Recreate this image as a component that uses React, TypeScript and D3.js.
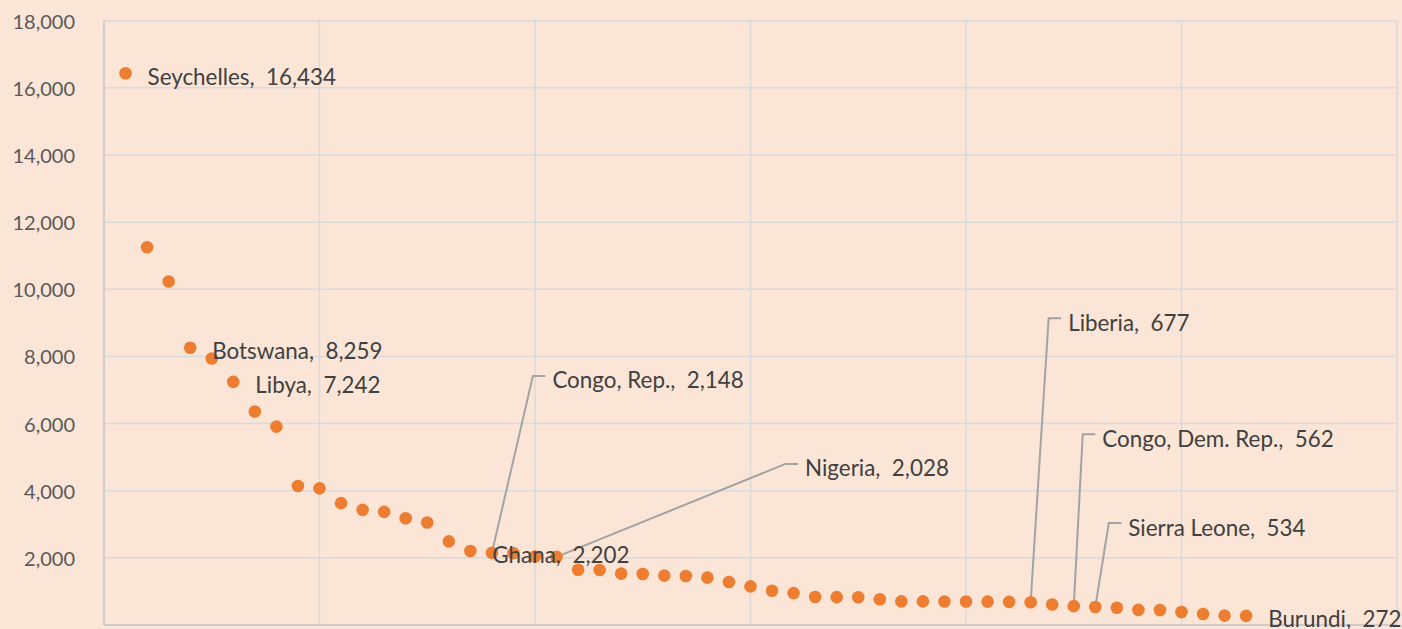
import React from 'react';
import * as d3 from 'd3';

// GDP per capita (US$), African countries ranked high to low
const values = [
  16434, 11250, 10230, 8259, 7940, 7242, 6360, 5910, 4140, 4070,
  3630, 3430, 3370, 3180, 3055, 2490, 2202, 2148, 2140, 2040,
  2028, 1645, 1640, 1530, 1520, 1470, 1460, 1410, 1280, 1150,
  1020, 950, 835, 830, 825, 765, 705, 703, 700, 698,
  695, 688, 677, 610, 562, 534, 515, 450, 445, 388,
  328, 280, 272,
];

// labels sitting to the right of their point
const sideLabels = [
  { rank: 1, name: 'Seychelles' },
  { rank: 4, name: 'Botswana' },
  { rank: 6, name: 'Libya' },
  { rank: 17, name: 'Ghana' },
  { rank: 53, name: 'Burundi' },
];

// labels pulled away with a leader line
const calloutLabels = [
  { rank: 18, name: 'Congo, Rep.' },
  { rank: 21, name: 'Nigeria' },
  { rank: 43, name: 'Liberia' },
  { rank: 45, name: 'Congo, Dem. Rep.' },
  { rank: 46, name: 'Sierra Leone' },
];

const yTicks = [0, 2000, 4000, 6000, 8000, 10000, 12000, 14000, 16000, 18000];
const xTicks = [0, 10, 20, 30, 40, 50, 60];

// where each leader line bends, relative to its point (px)
const calloutOffsets = {
  'Congo, Rep.': [41, -177],
  'Nigeria': [229, -93],
  'Liberia': [18, -284],
  'Congo, Dem. Rep.': [9, -172],
  'Sierra Leone': [13.5, -84],
};

const width = 1402;
const height = 629;
const fmt = d3.format(',');

const App = () => {
  const x = d3.scaleLinear().domain([0, 60]).range([104, 1397]);
  const y = d3.scaleLinear().domain([0, 18000]).range([625, 20.7]);

  const font = 'Lato, "Open Sans", sans-serif';
  const gridColor = '#d9d9d9';

  return (
    <svg
      width={width}
      height={height}
      style={{ position: 'absolute', left: 0, top: 0, display: 'block' }}
    >
      <rect width={width} height={height} fill="#fbe5d6" />

      {/* gridlines */}
      {yTicks.map(t => (
        <line key={'h' + t} x1={x(0)} x2={x(60)} y1={y(t)} y2={y(t)}
          stroke={gridColor} strokeWidth={1.5} />
      ))}
      {xTicks.map(t => (
        <line key={'v' + t} x1={x(t)} x2={x(t)} y1={y(0)} y2={y(18000)}
          stroke={gridColor} strokeWidth={1.5} />
      ))}
      {/* axis lines */}
      <line x1={x(0)} x2={x(0)} y1={y(0)} y2={y(18000)} stroke="#c8c8c8" strokeWidth={1.5} />
      <line x1={x(0)} x2={x(60)} y1={y(0)} y2={y(0)} stroke="#c8c8c8" strokeWidth={1.5} />

      {/* y tick labels (the 0 one falls mostly below the frame) */}
      {yTicks.map(t => (
        <text key={'t' + t} x={75} y={y(t) + (t === 0 ? 11 : 0)} textAnchor="end"
          dominantBaseline="central" fontFamily={font} fontSize={20} fill="#595959">
          {fmt(t)}
        </text>
      ))}

      {/* leader lines */}
      {calloutLabels.map(c => {
        const px = x(c.rank);
        const py = y(values[c.rank - 1]);
        const [dx, dy] = calloutOffsets[c.name];
        return (
          <polyline key={'l' + c.name}
            points={`${px},${py} ${px + dx},${py + dy} ${px + dx + 12.5},${py + dy}`}
            fill="none" stroke="#a3a3a3" strokeWidth={2} />
        );
      })}

      {/* points */}
      {values.map((v, i) => (
        <circle key={i} cx={x(i + 1)} cy={y(v)} r={6.3} fill="#ed7d31" />
      ))}

      {/* labels */}
      {sideLabels.map(s => (
        <text key={'s' + s.name} x={x(s.rank) + 22} y={y(values[s.rank - 1]) + 3}
          dominantBaseline="central" fontFamily={font} fontSize={22.4} fill="#404040"
          style={{ whiteSpace: 'pre' }}>
          {`${s.name},  ${fmt(values[s.rank - 1])}`}
        </text>
      ))}
      {calloutLabels.map(c => {
        const [dx, dy] = calloutOffsets[c.name];
        return (
          <text key={'c' + c.name} x={x(c.rank) + dx + 19.5} y={y(values[c.rank - 1]) + dy + 4}
            dominantBaseline="central" fontFamily={font} fontSize={22.4} fill="#404040"
            style={{ whiteSpace: 'pre' }}>
            {`${c.name},  ${fmt(values[c.rank - 1])}`}
          </text>
        );
      })}
    </svg>
  );
};

export default App;
